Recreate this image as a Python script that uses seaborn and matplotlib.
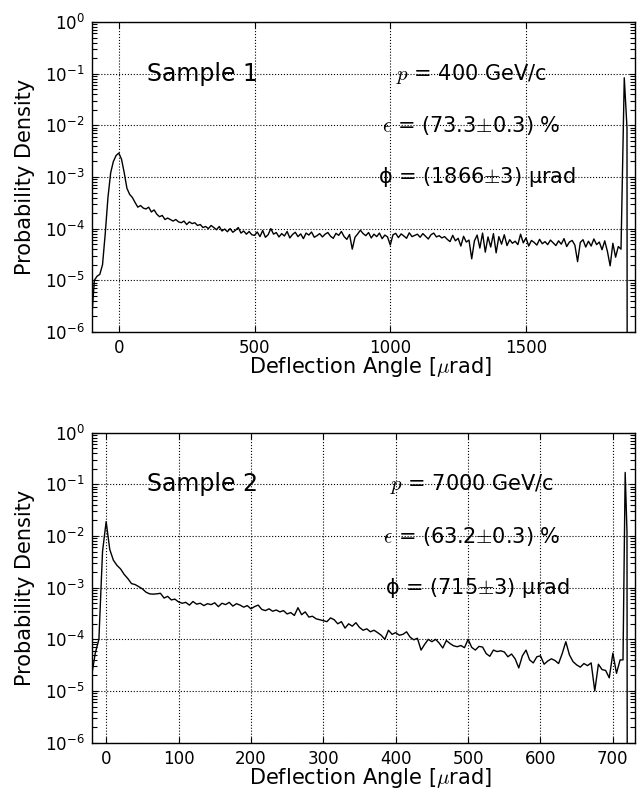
import numpy as np
import pandas as pd
import matplotlib
matplotlib.use("Agg")
import matplotlib.pyplot as plt
import seaborn as sns
from matplotlib.ticker import LogLocator, FixedLocator, NullFormatter

# ---------------- data ----------------
# Sample 1 (p = 400 GeV/c): bin centres every 10 urad from -100 to 1840
s1_angle = np.arange(-100, 1850, 10)
s1_density = [
    1.8e-6, 1.0e-5, 1.2e-5, 1.3e-5, 2.0e-5, 8.0e-5, 4.0e-4, 1.2e-3, 2.0e-3, 2.6e-3,
    2.9e-3, 2.2e-3, 1.2e-3, 6.0e-4, 4.6e-4, 4.0e-4, 3.2e-4, 2.6e-4, 2.8e-4, 2.5e-4,
    2.4e-4, 2.6e-4, 2.1e-4, 2.3e-4, 1.9e-4, 1.7e-4, 1.8e-4, 1.5e-4, 1.6e-4, 1.5e-4,
    1.4e-4, 1.5e-4, 1.35e-4, 1.3e-4, 1.4e-4, 1.2e-4, 1.35e-4, 1.25e-4, 1.3e-4, 1.15e-4,
    1.2e-4, 1.05e-4, 1.1e-4, 1.0e-4, 1.15e-4, 1.05e-4, 9.5e-5, 1.1e-4, 9.0e-5, 9.8e-5,
    8.7e-5, 1.0e-4, 8.5e-5, 9.3e-5, 1.05e-4, 8.2e-5, 9.0e-5, 7.8e-5, 8.8e-5, 7.6e-5,
    7.4e-5, 8.6e-5, 7.0e-5, 9.2e-5, 6.8e-5, 7.6e-5, 1.0e-4, 7.8e-5, 8.4e-5, 6.9e-5,
    8.0e-5, 7.2e-5, 8.8e-5, 6.6e-5, 7.7e-5, 8.5e-5, 7.0e-5, 7.9e-5, 6.4e-5, 8.2e-5,
    7.5e-5, 8.6e-5, 6.8e-5, 7.3e-5, 8.0e-5, 6.9e-5, 7.8e-5, 8.4e-5, 7.1e-5, 6.5e-5,
    8.1e-5, 7.4e-5, 8.8e-5, 7.0e-5, 6.2e-5, 7.7e-5, 4.0e-5, 6.8e-5, 7.9e-5, 9.3e-5,
    8.0e-5, 7.3e-5, 8.4e-5, 6.6e-5, 7.8e-5, 7.0e-5, 8.2e-5, 6.4e-5, 7.5e-5, 6.9e-5,
    4.8e-5, 7.6e-5, 8.1e-5, 6.7e-5, 7.9e-5, 7.2e-5, 6.5e-5, 8.3e-5, 7.0e-5, 7.4e-5,
    7.8e-5, 6.8e-5, 8.0e-5, 7.1e-5, 6.3e-5, 7.6e-5, 8.2e-5, 6.9e-5, 7.3e-5, 6.6e-5,
    7.0e-5, 6.2e-5, 5.6e-5, 7.4e-5, 5.8e-5, 6.5e-5, 4.6e-5, 7.1e-5, 5.5e-5, 6.0e-5,
    2.6e-5, 5.8e-5, 7.5e-5, 4.2e-5, 8.2e-5, 3.5e-5, 6.9e-5, 4.4e-5, 8.0e-5, 3.4e-5,
    7.0e-5, 5.0e-5, 7.6e-5, 4.7e-5, 6.1e-5, 5.2e-5, 5.7e-5, 4.9e-5, 7.8e-5, 5.3e-5,
    6.6e-5, 4.6e-5, 5.9e-5, 5.4e-5, 4.8e-5, 6.2e-5, 5.1e-5, 5.6e-5, 4.9e-5, 6.0e-5,
    5.3e-5, 4.7e-5, 5.8e-5, 5.0e-5, 6.4e-5, 4.5e-5, 5.5e-5, 5.9e-5, 4.8e-5, 2.3e-5,
    5.4e-5, 6.1e-5, 4.4e-5, 5.7e-5, 4.6e-5, 6.3e-5, 4.9e-5, 5.5e-5, 3.9e-5, 5.8e-5,
    3.6e-5, 1.9e-5, 5.2e-5, 2.8e-5, 4.5e-5,
]
# channeling peak of sample 1
s1_peak_angle = [1850, 1862, 1872, 1873]
s1_peak_density = [4.0e-5, 8.3e-2, 9.0e-3, 1e-9]

# Sample 2 (p = 7000 GeV/c): bin centres every 5 urad from -20 to 710
s2_angle = np.arange(-20, 715, 5)
s2_density = [
    2.0e-5, 5.4e-5, 1.0e-4, 5.0e-3, 1.9e-2, 5.5e-3, 3.4e-3, 2.7e-3, 2.3e-3, 1.8e-3,
    1.5e-3, 1.2e-3, 1.15e-3, 1.05e-3, 9.5e-4, 8.2e-4, 7.6e-4, 7.5e-4, 7.6e-4, 7.8e-4,
    6.3e-4, 6.8e-4, 5.8e-4, 6.0e-4, 5.3e-4, 5.0e-4, 5.2e-4, 4.6e-4, 5.4e-4, 4.8e-4,
    5.0e-4, 4.5e-4, 4.9e-4, 4.7e-4, 5.1e-4, 4.3e-4, 5.0e-4, 4.7e-4, 5.2e-4, 4.4e-4,
    4.9e-4, 4.6e-4, 4.2e-4, 4.5e-4, 3.9e-4, 4.3e-4, 4.6e-4, 3.8e-4, 3.6e-4, 3.9e-4,
    3.5e-4, 3.7e-4, 3.4e-4, 3.6e-4, 3.1e-4, 3.3e-4, 2.9e-4, 4.1e-4, 3.0e-4, 3.4e-4,
    2.7e-4, 2.8e-4, 2.5e-4, 2.4e-4, 2.3e-4, 2.2e-4, 2.6e-4, 2.4e-4, 2.0e-4, 2.2e-4,
    1.65e-4, 2.0e-4, 1.8e-4, 2.1e-4, 1.7e-4, 1.5e-4, 1.6e-4, 1.4e-4, 1.5e-4, 1.35e-4,
    1.2e-4, 1.0e-4, 1.5e-4, 1.25e-4, 1.35e-4, 1.2e-4, 1.25e-4, 1.4e-4, 1.1e-4, 9.8e-5,
    1.05e-4, 6.2e-5, 8.0e-5, 1.0e-4, 9.0e-5, 1.0e-4, 8.5e-5, 6.8e-5, 9.5e-5, 8.3e-5,
    7.5e-5, 7.2e-5, 7.6e-5, 6.9e-5, 1.0e-4, 7.0e-5, 6.2e-5, 7.3e-5, 7.1e-5, 5.3e-5,
    4.7e-5, 6.2e-5, 5.8e-5, 6.0e-5, 5.7e-5, 4.6e-5, 5.2e-5, 4.2e-5, 2.8e-5, 4.8e-5,
    6.2e-5, 4.0e-5, 3.5e-5, 4.6e-5, 4.8e-5, 3.3e-5, 3.8e-5, 4.2e-5, 3.9e-5, 3.4e-5,
    5.3e-5, 9.0e-5, 5.0e-5, 3.7e-5, 3.2e-5, 2.9e-5, 3.4e-5, 3.1e-5, 3.5e-5, 1.0e-5,
    3.3e-5, 2.6e-5, 2.5e-5, 1.8e-5, 5.4e-5, 2.2e-5, 4.0e-5,
]
s2_peak_angle = [714, 717, 719.5, 720]
s2_peak_density = [4.0e-5, 1.7e-1, 1.2e-2, 1e-9]

panels = [
    dict(name="Sample 1", angle=s1_angle, dens=s1_density,
         pk_angle=s1_peak_angle, pk_dens=s1_peak_density,
         xlim=(-100, 1900), xticks=[0, 500, 1000, 1500],
         info=[r"$p$ = 400 GeV/c", r"$\epsilon$ = (73.3$\pm$0.3) %",
               "\u03d5 = (1866$\\pm$3) \u00b5rad"]),
    dict(name="Sample 2", angle=s2_angle, dens=s2_density,
         pk_angle=s2_peak_angle, pk_dens=s2_peak_density,
         xlim=(-20, 730), xticks=[0, 100, 200, 300, 400, 500, 600, 700],
         info=[r"$p$ = 7000 GeV/c", r"$\epsilon$ = (63.2$\pm$0.3) %",
               "\u03d5 = (715$\\pm$3) \u00b5rad"]),
]

# ---------------- style ----------------
sns.set_theme(style="ticks")
plt.rcParams.update({
    "font.family": ["DejaVu Sans"],
    "mathtext.fontset": "cm",
    "axes.edgecolor": "black",
    "axes.linewidth": 1.0,
    "text.color": "black",
    "axes.labelcolor": "black",
    "xtick.color": "black",
    "ytick.color": "black",
    "xtick.direction": "in",
    "ytick.direction": "in",
    "xtick.top": True,
    "ytick.right": True,
    "xtick.major.size": 4,
    "ytick.major.size": 4,
    "xtick.major.width": 0.8,
    "ytick.major.width": 0.8,
    "xtick.labelsize": 12,
    "ytick.labelsize": 12,
    "xtick.major.pad": 5,
    "ytick.major.pad": 5,
})

fig = plt.figure(figsize=(6.41, 7.96), dpi=100)
axes = [fig.add_axes([0.143, 0.583, 0.847, 0.3894]),
        fig.add_axes([0.143, 0.067, 0.847, 0.3894])]

for ax, p in zip(axes, panels):
    df = pd.DataFrame({
        "angle": np.concatenate([p["angle"], p["pk_angle"]]),
        "density": np.concatenate([p["dens"], p["pk_dens"]]),
    })
    sns.lineplot(data=df, x="angle", y="density", ax=ax, color="black",
                 linewidth=1.0, estimator=None, sort=False)
    ax.set_yscale("log")
    ax.set_ylim(1e-6, 1)
    ax.set_xlim(*p["xlim"])
    ax.xaxis.set_major_locator(FixedLocator(p["xticks"]))
    ax.yaxis.set_major_locator(LogLocator(base=10, numticks=10))
    ax.yaxis.set_minor_locator(LogLocator(base=10, subs=np.arange(2, 10) * 1.0,
                                          numticks=100))
    ax.yaxis.set_minor_formatter(NullFormatter())
    ax.tick_params(axis="y", which="minor", direction="in", length=3.5,
                   width=0.8, left=True, right=True, color="black")
    ax.tick_params(axis="x", which="minor", bottom=False, top=False)
    ax.grid(True, which="major", color="black", linestyle=":", linewidth=0.8)
    ax.grid(False, which="minor")
    ax.set_axisbelow(False)
    ax.set_xlabel(r"Deflection Angle [$\mu$rad]", fontsize=15)
    ax.set_ylabel("Probability Density", fontsize=15)
    ax.yaxis.set_label_coords(-0.105, 0.5)
    ax.xaxis.set_label_coords(0.513, -0.076)
    ax.text(0.204, 0.833, p["name"], transform=ax.transAxes, fontsize=17,
            ha="center", va="center")
    for txt, yy, xx in zip(p["info"], [5 / 6, 4 / 6, 3 / 6], [0.70, 0.70, 0.71]):
        ax.text(xx, yy, txt, transform=ax.transAxes, fontsize=15,
                ha="center", va="center")

fig.savefig("out.png", dpi=100)
